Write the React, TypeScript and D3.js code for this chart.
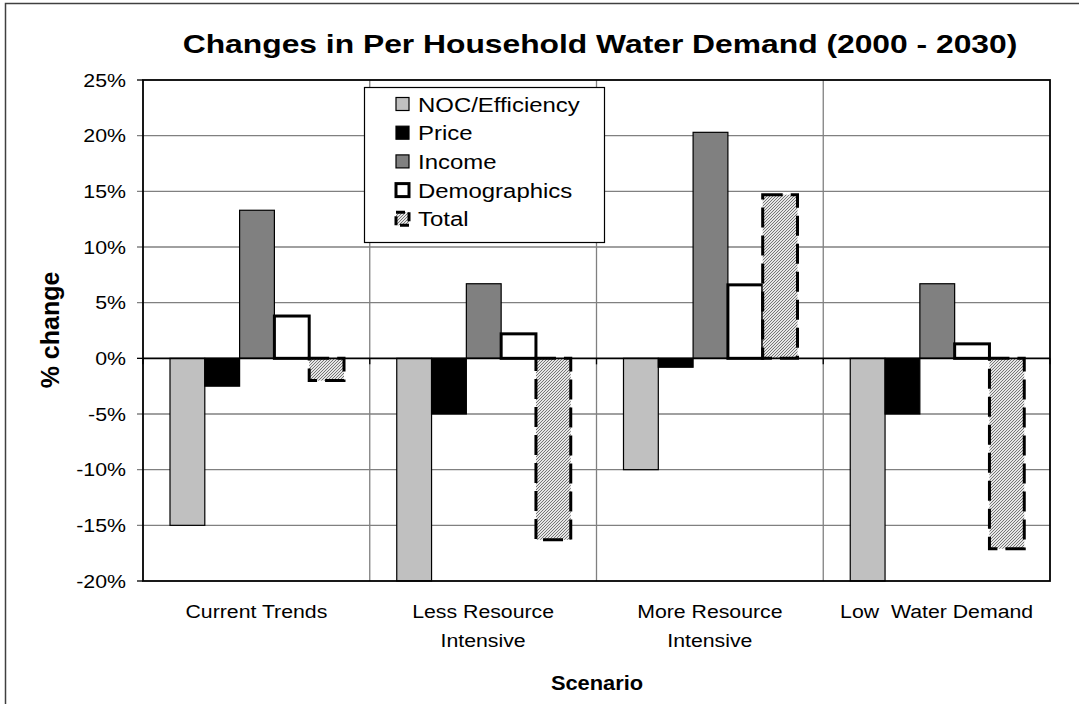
import React from "react";
import * as d3 from "d3";

const categories = ["Current Trends", "Less Resource Intensive", "More Resource Intensive", "Low Water Demand"];
const categoryLines = [["Current Trends"], ["Less Resource", "Intensive"], ["More Resource", "Intensive"], ["Low  Water Demand"]];
const seriesNames = ["NOC/Efficiency", "Price", "Income", "Demographics", "Total"];
const nocValues = [-15, -20, -10, -20];
const priceValues = [-2.5, -5, -0.8, -5];
const incomeValues = [13.3, 6.7, 20.3, 6.7];
const demographicsValues = [3.8, 2.2, 6.6, 1.3];
const totalValues = [-2.0, -16.3, 14.7, -17.1];
const yTicks = [-20, -15, -10, -5, 0, 5, 10, 15, 20, 25];

const seriesValues = [nocValues, priceValues, incomeValues, demographicsValues, totalValues];

const W = 1079;
const H = 704;
const left = 143;
const right = 1050;
const top = 80;
const bottom = 581;
const FONT = "'Liberation Sans', Arial, sans-serif";

type Style = { fill: string; stroke: string; sw: number; dash?: string };
const styles: Style[] = [
  { fill: "#c0c0c0", stroke: "#000", sw: 1.2 },
  { fill: "#000000", stroke: "#000", sw: 1.2 },
  { fill: "#808080", stroke: "#000", sw: 1.2 },
  { fill: "#ffffff", stroke: "#000", sw: 3 },
  { fill: "url(#hatch)", stroke: "#000", sw: 3, dash: "20 8" },
];

export default function App() {
  const y = d3.scaleLinear().domain([-20, 25]).range([bottom, top]);
  const x0 = d3.scaleBand<string>().domain(categories).range([left, right]).padding(0);
  const x1 = d3.scaleBand<string>().domain(seriesNames).range([27, 201]).padding(0);
  const bw = x1.bandwidth();
  const boundaries = categories.map((c) => x0(c) as number).concat([right]);

  return (
    <svg width={W} height={H} style={{ position: "absolute", left: 0, top: 0, background: "#fff" }}>
      <defs>
        <pattern id="hatch" patternUnits="userSpaceOnUse" width="3" height="3">
          <rect width="3" height="3" fill="#e6e6e6" />
          <path d="M-1,1 l2,-2 M0,3 l3,-3 M2,4 l2,-2" stroke="#6a6a6a" strokeWidth="0.9" />
        </pattern>
      </defs>
      <rect x={5.5} y={3.5} width={1090} height={720} fill="#fff" stroke="#404040" strokeWidth={1.5} />

      {/* title */}
      <text transform={`translate(600,53) scale(1.2,1)`} textAnchor="middle" fontFamily={FONT} fontWeight="bold" fontSize={26.5} fill="#000">
        Changes in Per Household Water Demand (2000 - 2030)
      </text>

      {/* horizontal gridlines */}
      {yTicks.filter((t) => t !== -20 && t !== 25 && t !== 0).map((t) => (
        <line key={"g" + t} x1={left - 6} x2={right} y1={y(t)} y2={y(t)} stroke="#808080" strokeWidth={1.3} />
      ))}
      {/* vertical gridlines */}
      {boundaries.slice(1, -1).map((b, i) => (
        <line key={"v" + i} x1={b} x2={b} y1={top} y2={bottom} stroke="#808080" strokeWidth={1.3} />
      ))}
      {/* tick marks for -20, 0, 25 */}
      {[-20, 0, 25].map((t) => (
        <line key={"tk" + t} x1={left - 6} x2={left} y1={y(t)} y2={y(t)} stroke="#000" strokeWidth={1.3} />
      ))}

      {/* bars */}
      {categories.map((c, ci) =>
        seriesNames.map((s, si) => {
          const v = seriesValues[si][ci];
          const st = styles[si];
          const bx = (x0(c) as number) + (x1(s) as number);
          const y0 = y(0);
          const yv = y(v);
          return (
            <rect
              key={c + s}
              x={bx}
              y={Math.min(y0, yv)}
              width={bw}
              height={Math.abs(yv - y0)}
              fill={st.fill}
              stroke={st.stroke}
              strokeWidth={st.sw}
              strokeDasharray={st.dash}
            />
          );
        })
      )}

      {/* zero line and category ticks */}
      <line x1={left} x2={right} y1={y(0)} y2={y(0)} stroke="#000" strokeWidth={1.6} />
      {boundaries.map((b, i) => (
        <line key={"ct" + i} x1={b} x2={b} y1={y(0)} y2={y(0) + 6} stroke="#000" strokeWidth={1.3} />
      ))}

      {/* plot border */}
      <rect x={left} y={top} width={right - left} height={bottom - top} fill="none" stroke="#000" strokeWidth={1.8} />

      {/* y tick labels */}
      {yTicks.map((t) => (
        <text key={"yl" + t} transform={`translate(126,${y(t) + 6.5}) scale(1.22,1)`} textAnchor="end" fontFamily={FONT} fontSize={17.5} fill="#000">
          {t + "%"}
        </text>
      ))}

      {/* x labels */}
      {categories.map((c, ci) =>
        categoryLines[ci].map((line, li) => (
          <text
            key={c + li}
            transform={`translate(${(x0(c) as number) + x0.bandwidth() / 2},${618 + li * 29}) scale(1.12,1)`}
            textAnchor="middle"
            fontFamily={FONT}
            fontSize={19}
            fill="#000"
            style={{ whiteSpace: "pre" }}
          >
            {line}
          </text>
        ))
      )}

      {/* axis titles */}
      <text transform={`translate(597,690) scale(1.12,1)`} textAnchor="middle" fontFamily={FONT} fontWeight="bold" fontSize={19.5} fill="#000">
        Scenario
      </text>
      <text transform={`translate(59,330) rotate(-90)`} textAnchor="middle" fontFamily={FONT} fontWeight="bold" fontSize={25} fill="#000">
        % change
      </text>

      {/* legend */}
      <g>
        <rect x={364.5} y={87.5} width={240} height={155} fill="#fff" stroke="#000" strokeWidth={1.2} />
        {seriesNames.map((s, si) => {
          const cy = 104 + si * 28.7;
          const st = styles[si];
          return (
            <g key={"lg" + s}>
              <rect
                x={396}
                y={cy - 6.5}
                width={13}
                height={13}
                fill={st.fill}
                stroke={st.stroke}
                strokeWidth={si === 3 ? 3 : si === 4 ? 3 : 1.2}
                strokeDasharray={si === 4 ? "9 4" : undefined}
              />
              <text transform={`translate(418,${cy + 7.5}) scale(1.14,1)`} fontFamily={FONT} fontSize={21} fill="#000">
                {s}
              </text>
            </g>
          );
        })}
      </g>
    </svg>
  );
}
